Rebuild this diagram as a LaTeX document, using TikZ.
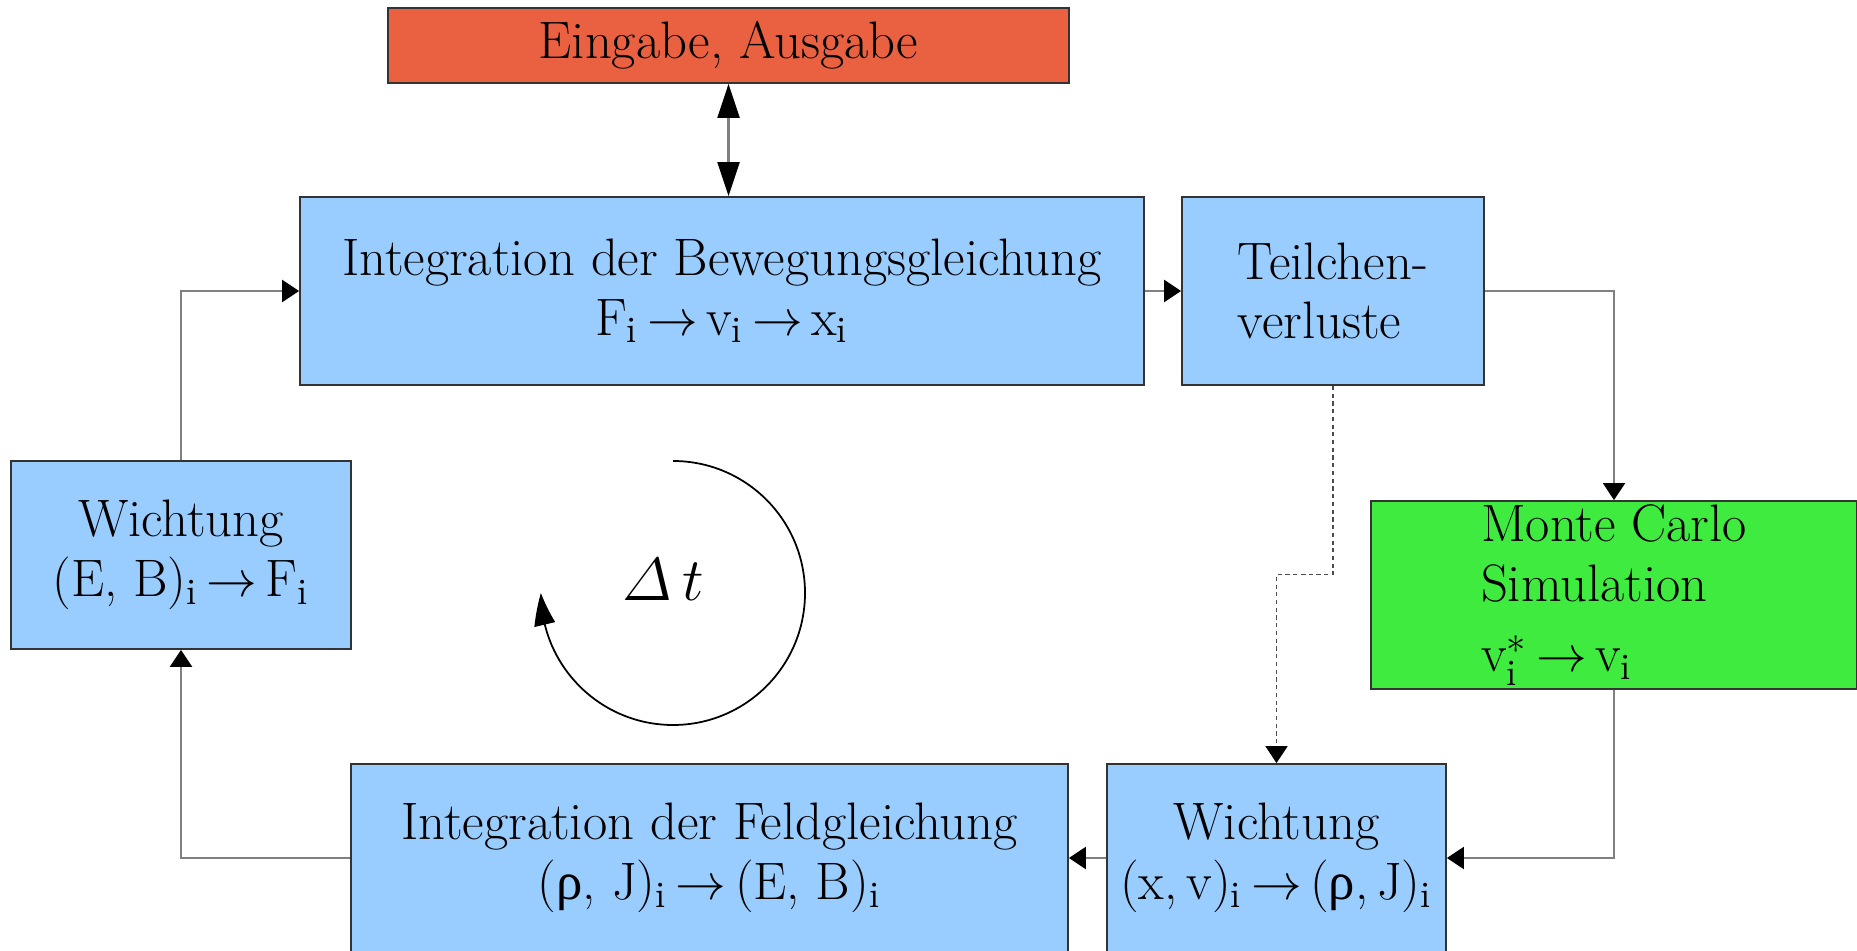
\documentclass[tikz,border=0pt]{standalone}
\usepackage{fontspec}
\newfontfamily\rhofont{Liberation Serif}
\usepackage{amsmath}
\usetikzlibrary{arrows.meta,bending,calc}
\definecolor{boxblue}{RGB}{153,204,255}
\definecolor{boxred}{RGB}{233,97,64}
\definecolor{boxgreen}{RGB}{64,235,64}
\tikzstyle{box} = [draw=black!80, line width=0.5pt, fill=boxblue, inner sep=0pt, align=center, font=\fontsize{15}{17}\selectfont]
\tikzstyle{arrow} = [draw=black!50, line width=0.6pt, -{Triangle[length=1.7mm,width=2.2mm,color=black]}]
\tikzstyle{darrow} = [draw=black!50, line width=0.6pt, {Triangle[length=3.4mm,width=2.2mm,color=black]}-{Triangle[length=3.4mm,width=2.2mm,color=black]}]
\newcommand{\ix}{\ensuremath{_\mathrm{i}}}
\newcommand{\pf}{\ensuremath{\,\rightarrow\,}}
\newcommand{\rh}{{\rhofont ρ}}

\begin{document}
\begin{tikzpicture}
  \useasboundingbox (0,0) rectangle (18.57,9.5);
  \node[box, fill=boxred, minimum width=6.81cm, minimum height=0.75cm] (ein) at (7.285,9.045) {Eingabe, Ausgabe};
  \node[box, minimum width=8.44cm, minimum height=1.88cm] (intb) at (7.22,6.59) {Integration der Bewegungsgleichung\\F\ix\pf v\ix\pf x\ix};
  \node[box, align=left, minimum width=3.02cm, minimum height=1.88cm] (teil) at (13.33,6.59) {Teilchen-\\verluste};
  \node[box, fill=boxgreen, align=left, minimum width=4.86cm, minimum height=1.88cm] (mc) at (16.14,3.55) {Monte Carlo\\Simulation\\[3pt]v$^*_\mathrm{i}$\pf v\ix};
  \node[box, minimum width=3.40cm, minimum height=1.88cm] (wl) at (1.81,3.95) {Wichtung\\(E, B)\ix\pf F\ix};
  \node[box, minimum width=7.17cm, minimum height=1.88cm] (intf) at (7.095,0.92) {Integration der Feldgleichung\\(\rh, J)\ix\pf (E, B)\ix};
  \node[box, minimum width=3.39cm, minimum height=1.88cm] (wb) at (12.765,0.92) {Wichtung\\(x,\,v)\ix\pf(\rh,\,J)\ix};
  % Zeitschritt
  \coordinate (dtmitte) at (6.73,3.57);
  \node[font=\fontsize{17.5}{20}\selectfont] (dt) at (6.63,3.70) {$\varDelta\,t$};
  \draw[line width=0.5pt, -{Triangle[length=3.2mm,width=2.1mm,bend]}] ($(dtmitte)+(0,1.32)$) arc[start angle=90, end angle=-180, radius=1.32];
  % Verbindungen
  \draw[darrow] (ein.south) -- (ein.south |- intb.north);
  \draw[arrow] (intb) -- (teil);
  \draw[arrow] (teil.east) -| (mc.north);
  \draw[arrow] (mc.south) |- (wb.east);
  \draw[arrow] (wb) -- (intf);
  \draw[arrow] (intf.west) -| (wl.south);
  \draw[arrow] (wl.north) |- (intb.west);
  \coordinate (knick) at ($(teil.south)!0.5!(wb.north)$);
  \draw[arrow, draw=black!70, line width=0.5pt, dash pattern=on 1.2pt off 1pt] (teil.south) |- (knick) -| (wb.north);
\end{tikzpicture}
\end{document}
